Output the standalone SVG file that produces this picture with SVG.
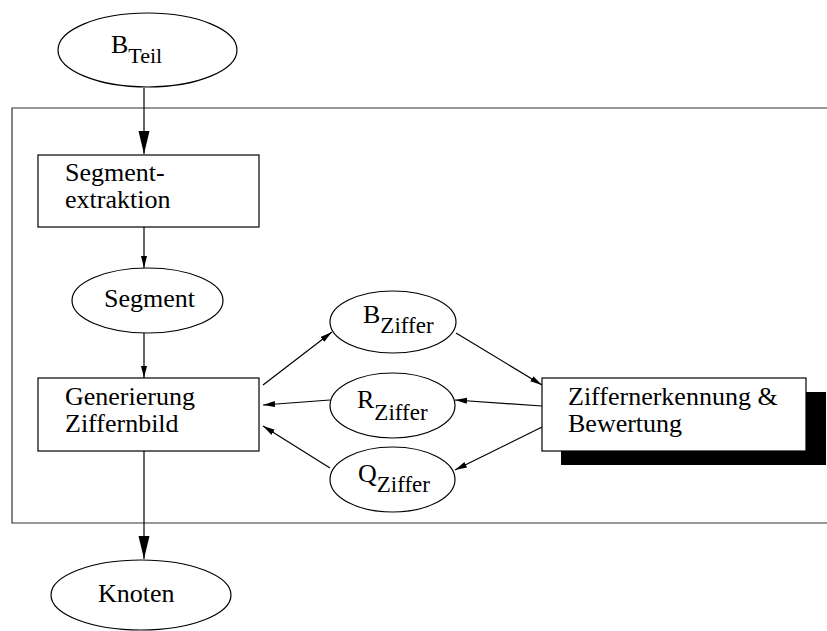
<svg xmlns="http://www.w3.org/2000/svg" width="827" height="631" viewBox="0 0 827 631">
  <style>
    .shape { fill: #fff; stroke: #000; stroke-width: 1.2; }
    .frame { fill: none; stroke: #333; stroke-width: 1.2; }
    .edge { fill: none; stroke: #000; stroke-width: 1.2; }
    .label { font-family: "Liberation Serif", "Times New Roman", serif; font-size: 26px; fill: #000; }
    .sub { font-size: 22px; }
    .sub-z { font-size: 23px; }
  </style>
  <defs>
    <marker id="arrowSmall" markerUnits="userSpaceOnUse" markerWidth="13" markerHeight="7" refX="12" refY="3" orient="auto">
      <path d="M0,0 L12,3 L0,6 z" fill="#000"/>
    </marker>
    <marker id="arrowLarge" markerUnits="userSpaceOnUse" markerWidth="24" markerHeight="12" refX="23" refY="5.5" orient="auto">
      <path d="M0,0 L23,5.5 L0,11 z" fill="#000"/>
    </marker>
  </defs>

  <!-- enclosing frame (open on the right edge) -->
  <path class="frame" d="M830,108 L12,108 L12,523 L830,523"/>

  <g id="connectors">
    <line class="edge" x1="144" y1="88" x2="144" y2="154" marker-end="url(#arrowLarge)"/>
    <line class="edge" x1="144" y1="227" x2="144" y2="268" marker-end="url(#arrowSmall)"/>
    <line class="edge" x1="144" y1="333" x2="144" y2="378" marker-end="url(#arrowSmall)"/>
    <line class="edge" x1="144" y1="451" x2="144" y2="559" marker-end="url(#arrowLarge)"/>
    <line class="edge" x1="263" y1="385" x2="332" y2="332" marker-end="url(#arrowSmall)"/>
    <line class="edge" x1="456" y1="333" x2="542" y2="385" marker-end="url(#arrowSmall)"/>
    <line class="edge" x1="542" y1="406" x2="455" y2="400" marker-end="url(#arrowSmall)"/>
    <line class="edge" x1="330" y1="400" x2="263" y2="405" marker-end="url(#arrowSmall)"/>
    <line class="edge" x1="542" y1="427" x2="455" y2="470" marker-end="url(#arrowSmall)"/>
    <line class="edge" x1="330" y1="468" x2="263" y2="426" marker-end="url(#arrowSmall)"/>
  </g>

  <g id="b-teil">
    <ellipse class="shape" cx="147.5" cy="50" rx="89.5" ry="37"/>
    <text class="label" x="111" y="53">B<tspan class="sub" dy="10">Teil</tspan></text>
  </g>

  <g id="segmentextraktion">
    <rect class="shape" x="38" y="155" width="221" height="72"/>
    <text class="label" x="65" y="181">Segment-</text>
    <text class="label" x="65" y="208">extraktion</text>
  </g>

  <g id="segment">
    <ellipse class="shape" cx="147.5" cy="300.5" rx="75.5" ry="32.5"/>
    <text class="label" x="104" y="307">Segment</text>
  </g>

  <g id="generierung">
    <rect class="shape" x="38" y="378" width="221" height="73"/>
    <text class="label" x="65" y="405">Generierung</text>
    <text class="label" x="65" y="432">Ziffernbild</text>
  </g>

  <g id="b-ziffer">
    <ellipse class="shape" cx="393" cy="322" rx="63" ry="31"/>
    <text class="label" x="363" y="323">B<tspan class="sub-z" dy="10">Ziffer</tspan></text>
  </g>

  <g id="r-ziffer">
    <ellipse class="shape" cx="392.5" cy="405.5" rx="62.5" ry="32.5"/>
    <text class="label" x="357" y="408">R<tspan class="sub-z" dy="12">Ziffer</tspan></text>
  </g>

  <g id="q-ziffer">
    <ellipse class="shape" cx="392.5" cy="479.5" rx="62.5" ry="32.5"/>
    <text class="label" x="358" y="482">Q<tspan class="sub-z" dy="10">Ziffer</tspan></text>
  </g>

  <g id="ziffernerkennung">
    <rect x="561" y="392" width="265" height="73" fill="#000"/>
    <rect class="shape" x="542" y="378" width="264" height="73"/>
    <text class="label" x="568" y="405">Ziffernerkennung &amp;</text>
    <text class="label" x="568" y="432">Bewertung</text>
  </g>

  <g id="knoten">
    <ellipse class="shape" cx="141" cy="595" rx="90" ry="35"/>
    <text class="label" x="98" y="602">Knoten</text>
  </g>
</svg>
